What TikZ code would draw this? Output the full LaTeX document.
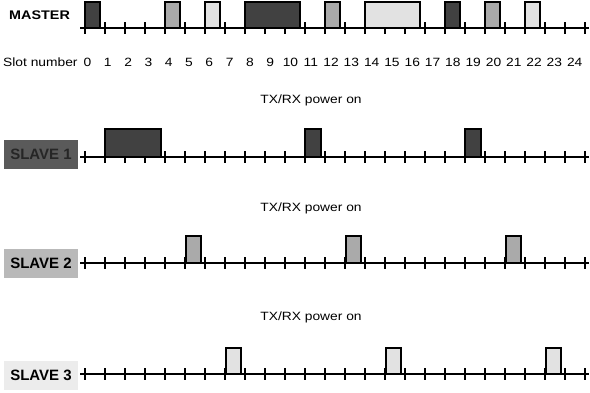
\documentclass[tikz,border=0pt]{standalone}
\usepackage{fontspec}
\setmainfont{Liberation Sans}
\newfontfamily\widefont{Liberation Sans}[FakeStretch=1.15]
\usepackage{tikz}
\usetikzlibrary{positioning}
\definecolor{BTdark}{RGB}{65,65,65}
\definecolor{BTmid}{RGB}{170,170,170}
\definecolor{BTlight}{RGB}{226,226,226}
\definecolor{BTlbldark}{RGB}{90,90,90}
\definecolor{BTlblmid}{RGB}{185,185,185}
\definecolor{BTlbllight}{RGB}{236,236,236}
\tikzset{
  axis/.style={line width=2.6pt,draw=black},
  tickmark/.style={line width=2.1pt,draw=black},
  pkt/.style={draw=black,line width=1.3pt},
  pktA/.style={pkt,fill=BTdark},
  pktB/.style={pkt,fill=BTmid},
  pktC/.style={pkt,fill=BTlight},
  rowlbl/.style={font=\widefont\fontsize{12.5}{14}\selectfont\bfseries,anchor=west,inner sep=0pt},
  slavelbl/.style={font=\fontsize{15}{17}\selectfont\bfseries,minimum width=74pt,
                   minimum height=29pt,inner sep=0pt},
  slotnum/.style={font=\widefont\fontsize{12}{14}\selectfont,inner sep=0pt},
  note/.style={font=\widefont\fontsize{12}{14}\selectfont,inner sep=0pt}
}
\begin{document}
\begin{tikzpicture}[x=1pt,y=-1pt]
  \useasboundingbox (0,0) rectangle (590,392);
  % row labels
  \node[rowlbl] (master) at (9,15) {MASTER};
  \node[slotnum,anchor=west] (slotlbl) at (3,62) {Slot number};
  \foreach \n in {0,...,24}
    \node[slotnum] (num\n) at ({87.5+20.3*\n},62) {\n};
  \node[slavelbl,fill=BTlbldark,text=black!85] (slave1) at (41,154) {SLAVE 1};
  \node[slavelbl,fill=BTlblmid] (slave2) at (41,263) {SLAVE 2};
  \node[slavelbl,fill=BTlbllight] (slave3) at (41,375) {SLAVE 3};
  \node[note] (txrx1) at (311,100) {TX/RX power on};
  \node[note] (txrx2) at (311,208) {TX/RX power on};
  \node[note] (txrx3) at (311,317) {TX/RX power on};
  % time axes with slot ticks
  \foreach \y in {28,157,263,374} {
    \draw[axis] (80,\y) -- (589,\y);
    \foreach \n in {0,...,25}
      \draw[tickmark] ({85+20*\n},\y-6) -- ({85+20*\n},\y+6);
  }
  % packets: slot / length / style
  \foreach \s/\l/\c in {0/1/pktA,4/1/pktB,6/1/pktC,8/3/pktA,12/1/pktB,
                        14/3/pktC,18/1/pktA,20/1/pktB,22/1/pktC}
    \draw[\c] ({85+20*\s},28) rectangle ++({20*\l-5},-26);
  \foreach \s/\l in {1/3,11/1,19/1}
    \draw[pktA] ({85+20*\s},157) rectangle ++({20*\l-4},-28);
  \foreach \s in {5,13,21}
    \draw[pktB] ({86+20*\s},263) rectangle ++(15,-27);
  \foreach \s in {7,15,23}
    \draw[pktC] ({86+20*\s},374) rectangle ++(15,-26);
\end{tikzpicture}
\end{document}
